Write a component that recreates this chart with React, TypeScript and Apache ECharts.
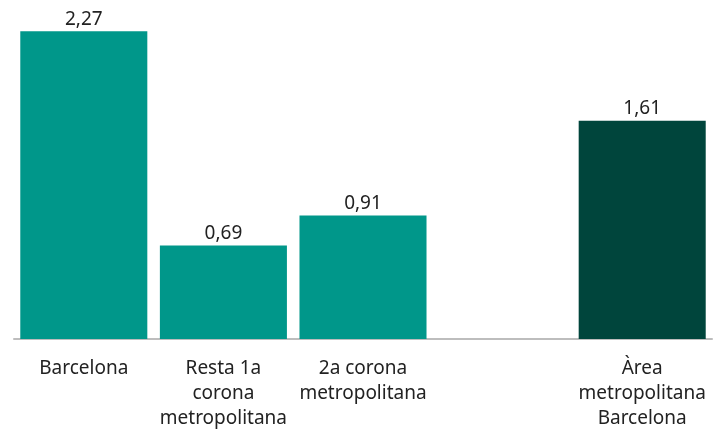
import React, { useEffect, useRef } from "react";
import * as echarts from "echarts";

const categories = [
  "Barcelona",
  "Resta 1a\ncorona\nmetropolitana",
  "2a corona\nmetropolitana",
  "",
  "Àrea\nmetropolitana\nBarcelona",
];
const values: (number | null)[] = [2.27, 0.69, 0.91, null, 1.61];
const barColors = ["#00978A", "#00978A", "#00978A", "#00978A", "#00453C"];

export default function App() {
  const ref = useRef<HTMLDivElement>(null);
  useEffect(() => {
    if (!ref.current) return;
    const chart = echarts.init(ref.current, null, { renderer: "svg" });
    chart.setOption({
      animation: false,
      grid: { left: 14, right: 1, top: 0, bottom: 89, containLabel: false },
      xAxis: {
        type: "category",
        data: categories,
        axisLine: { show: true, lineStyle: { color: "#BDBDBD", width: 2 } },
        axisTick: { show: false },
        axisLabel: {
          interval: 0,
          margin: 15,
          color: "#222",
          fontSize: 19,
          lineHeight: 25,
          fontFamily: "Noto Sans",
        },
      },
      yAxis: {
        type: "value",
        min: 0,
        max: 2.5,
        show: false,
        splitLine: { show: false },
      },
      series: [
        {
          type: "bar",
          barCategoryGap: "9%",
          data: values.map((v, i) => ({
            value: v,
            itemStyle: { color: barColors[i] },
          })),
          label: {
            show: true,
            position: "top",
            distance: 4,
            color: "#222",
            fontSize: 19,
            fontFamily: "Noto Sans",
            formatter: (p: any) =>
              p.value == null ? "" : Number(p.value).toFixed(2).replace(".", ","),
          },
        },
      ],
    });
    return () => chart.dispose();
  }, []);
  return (
    <div
      ref={ref}
      style={{ position: "fixed", left: 0, top: 0, width: 713, height: 429 }}
    />
  );
}
